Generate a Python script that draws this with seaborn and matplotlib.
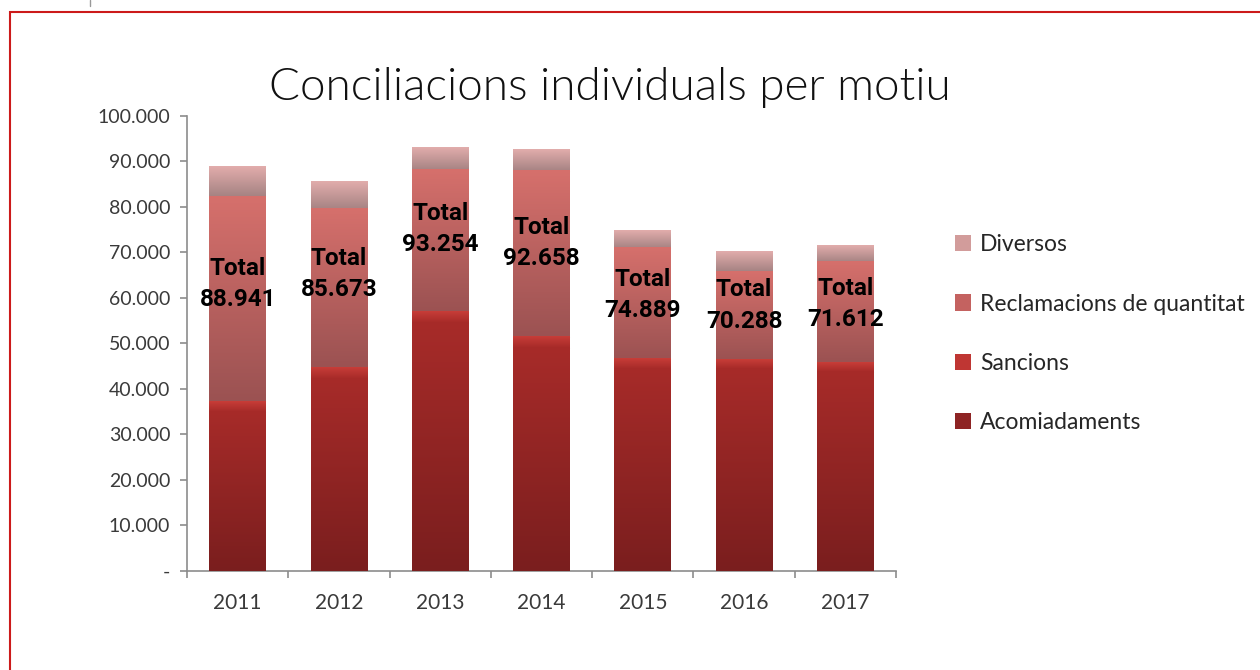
import numpy as np
import seaborn as sns
import matplotlib.pyplot as plt
from matplotlib.patches import Patch, Rectangle
from matplotlib.lines import Line2D
from matplotlib.colors import LinearSegmentedColormap

# data
years = ['2011', '2012', '2013', '2014', '2015', '2016', '2017']
acomiadaments = [35000, 42300, 54400, 48900, 44400, 44300, 43800]
sancions = [2400, 2500, 2500, 2500, 2200, 2100, 2100]
reclamacions = [45000, 34800, 31300, 36500, 24400, 19500, 22100]
diversos = [6541, 6073, 5054, 4758, 3889, 4388, 3612]
totals = [88941, 85673, 93254, 92658, 74889, 70288, 71612]

series = ['Acomiadaments', 'Sancions', 'Reclamacions de quantitat', 'Diversos']
values = [acomiadaments, sancions, reclamacions, diversos]

# (bottom colour, top colour) of the vertical gradient for each series
grads = [('#7a1e1e', '#a72b29'),
         ('#a52a28', '#c83d38'),
         ('#9b5252', '#d6706c'),
         ('#a68383', '#e2adac')]
legend_cols = ['#8e2424', '#bf3633', '#c46260', '#d29c9b']


def fmt(v):
    return f'{v:,}'.replace(',', '.')


sns.set_theme(style='white')
plt.rcParams['font.family'] = ['Lato', 'DejaVu Sans']

fig = plt.figure(figsize=(12.6, 6.7), dpi=100)
ax = fig.add_axes([0.1484, 0.1478, 0.5627, 0.6791])

cum = np.cumsum(values, axis=0)

# stacked bars: draw the cumulative heights from the top series down
for i in range(3, -1, -1):
    sns.barplot(x=years, y=cum[i], color=grads[i][1], width=0.56,
                saturation=1, errorbar=None, ax=ax)

# put a vertical gradient on every segment
n = len(years)
for k, i in enumerate(range(3, -1, -1)):
    cmap = LinearSegmentedColormap.from_list(series[i], [grads[i][0], grads[i][1]])
    for j, p in enumerate(ax.patches[k * n:(k + 1) * n]):
        lo = cum[i - 1][j] if i > 0 else 0
        hi = cum[i][j]
        x0 = p.get_x()
        w = p.get_width()
        ax.imshow(np.linspace(0, 1, 256).reshape(-1, 1), cmap=cmap, origin='lower',
                  extent=(x0, x0 + w, lo, hi), aspect='auto', zorder=3)

# total labels, in the upper part of each bar
for j in range(n):
    y = (cum[1][j] + totals[j]) / 2
    ax.text(j, y, f'Total\n{fmt(totals[j])}', ha='center', va='center',
            fontsize=17.5, fontweight='bold', color='black', linespacing=1.45,
            family=['Roboto', 'DejaVu Sans'], zorder=5)

ax.set_xlim(-0.5, 6.5)
ax.set_ylim(0, 100000)
yt = np.arange(0, 100001, 10000)
ax.set_yticks(yt)
ax.set_yticklabels(['-' if v == 0 else fmt(int(v)) for v in yt])
ax.set_xticks(range(n))
ax.set_xticklabels(years)
ax.set_xticks(np.arange(-0.5, n, 1), minor=True)
ax.set_xlabel('')
ax.set_ylabel('')

for s in ['top', 'right']:
    ax.spines[s].set_visible(False)
for s in ['left', 'bottom']:
    ax.spines[s].set_color('#8c8c8c')
    ax.spines[s].set_linewidth(1.2)

ax.tick_params(axis='y', left=True, length=5, width=1.2, color='#8c8c8c',
               labelsize=14, labelcolor='#3a3a3a', pad=7)
ax.tick_params(axis='x', which='major', bottom=False, length=0,
               labelsize=15, labelcolor='#3a3a3a', pad=16)
ax.tick_params(axis='x', which='minor', bottom=True, length=5, width=1.2,
               color='#8c8c8c')

fig.text(0.484, 0.869, 'Conciliacions individuals per motiu', ha='center',
         va='center', fontsize=33, fontweight=300, color='#111111')

handles = [Patch(facecolor=legend_cols[i], edgecolor='none', label=series[i])
           for i in range(3, -1, -1)]
fig.legend(handles=handles, loc='center left', bbox_to_anchor=(0.758, 0.502),
           frameon=False, fontsize=16.5, labelspacing=1.67, handlelength=0.7,
           handleheight=0.7, handletextpad=0.4, borderpad=0, borderaxespad=0,
           labelcolor='#262626')

# red frame round the chart and the little mark at the top
fig.add_artist(Rectangle((0.008, -0.05), 1.1, 1.032, transform=fig.transFigure,
                         fill=False, edgecolor='#cc1a1a', lw=1.5))
fig.add_artist(Line2D([0.0714, 0.0714], [1.0, 0.991], transform=fig.transFigure,
                      color='#999999', lw=1))

fig.savefig('out.png', dpi=100)
